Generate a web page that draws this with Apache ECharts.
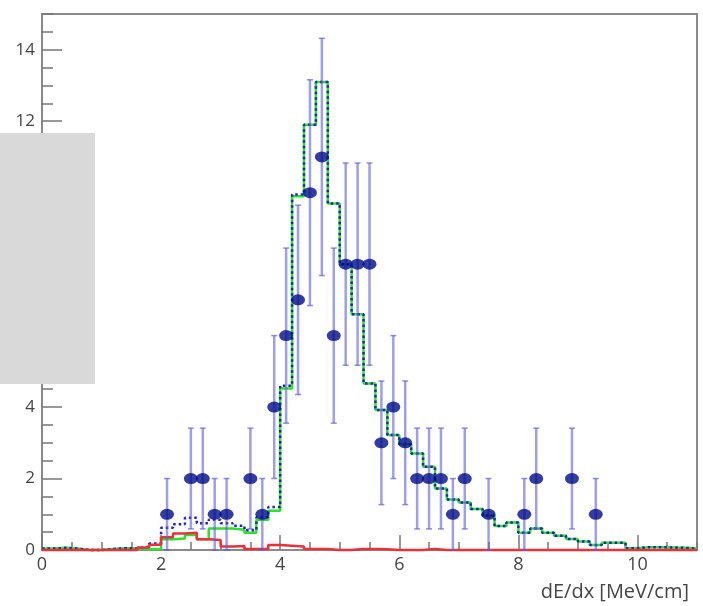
<!DOCTYPE html>
<html>
<head>
<meta charset="utf-8">
<script src="https://cdn.jsdelivr.net/npm/echarts@6/dist/echarts.min.js"></script>
<style>
html,body{margin:0;padding:0;background:#fff;}
#chart{width:703px;height:606px;}
</style>
</head>
<body>
<div id="chart"></div>
<script>
// ---- Data ----
const histMin = 0;
const binWidth = 0.2;
// histogram contents per bin (bins of 0.2 from 0 to 11)
const greenHist = [0.04,0.06,0.04,0,0,0.03,0.05,0.05,0.02,0.03,
  0.30,0.32,0.42,0.30,0.60,0.60,0.57,0.48,0.85,1.10,
  4.52,9.9,11.9,13.1,9.7,8.0,6.6,4.66,3.92,3.22,
  2.96,2.70,2.33,1.72,1.41,1.33,1.15,0.96,0.67,0.77,
  0.48,0.60,0.48,0.40,0.31,0.24,0.14,0.20,0.20,0.05,
  0.08,0.08,0.07,0.06,0.04];
const blueHist = [0.04,0.06,0.04,0,0,0.03,0.05,0.05,0.09,0.18,
  0.62,0.72,0.90,0.75,0.85,0.75,0.68,0.55,0.92,1.20,
  4.60,9.95,11.9,13.1,9.7,8.0,6.6,4.66,3.92,3.22,
  2.96,2.70,2.33,1.72,1.41,1.33,1.15,0.96,0.67,0.77,
  0.48,0.60,0.48,0.40,0.31,0.24,0.14,0.20,0.20,0.05,
  0.08,0.08,0.07,0.06,0.04];
const redHist = [0,0,0,0,0,0,0,0,0.07,0.15,
  0.36,0.46,0.48,0.30,0.28,0.10,0.11,0.03,0.03,0.14,
  0.12,0.10,0.03,0.03,0,0,0.03,0.03,0.02,0,
  0,0,0.03,0,0,0,0,0,0,0,
  0,0,0,0,0,0,0,0,0,0,
  0,0,0,0,0];
// data points
const dataX = [2.1,2.5,2.7,2.9,3.1,3.5,3.7,3.9,4.1,4.3,4.5,4.7,4.9,5.1,5.3,5.5,5.7,5.9,6.1,6.3,6.5,6.7,6.9,7.1,7.5,8.1,8.3,8.9,9.3];
const dataY = [1,2,2,1,1,2,1,4,6,7,10,11,6,8,8,8,3,4,3,2,2,2,1,2,1,1,2,2,1];
const dataErr = [1,1.41,1.41,1,1,1.41,1,2,2.45,2.65,3.16,3.32,2.45,2.83,2.83,2.83,1.73,2,1.73,1.41,1.41,1.41,1,1.41,1,1,1.41,1.41,1];
const xTitle = 'dE/dx [MeV/cm]';

// ---- build series data ----
function stepData(vals) {
  const out = vals.map((v, i) => [histMin + i * binWidth, v]);
  out.push([histMin + vals.length * binWidth, vals[vals.length - 1]]);
  return out;
}
const pts = dataX.map((x, i) => [x, dataY[i], dataErr[i]]);

const FONT = '"Open Sans", "DejaVu Sans", sans-serif';
const axisGrey = '#8a8a8a';
const chart = echarts.init(document.getElementById('chart'), null, {renderer: 'canvas'});
chart.setOption({
  animation: false,
  backgroundColor: '#ffffff',
  grid: {left: 42, right: 6, top: 14, bottom: 56, show: true, borderColor: axisGrey, borderWidth: 2, backgroundColor: 'transparent'},
  xAxis: [{
    type: 'value', min: 0, max: 11, interval: 2,
    axisLine: {show: true, lineStyle: {color: axisGrey, width: 2}},
    axisTick: {show: true, inside: true, length: 15, lineStyle: {color: '#777', width: 1.5}},
    minorTick: {show: false},
    splitLine: {show: false},
    axisLabel: {show: true, showMaxLabel: false, margin: 6, color: '#454545', fontSize: 18, fontFamily: FONT}
  }, {
    type: 'value', min: 0, max: 11, interval: 0.5, position: 'bottom',
    axisLine: {show: false},
    axisTick: {show: true, inside: true, length: 8, lineStyle: {color: '#777', width: 1.5}},
    splitLine: {show: false},
    axisLabel: {show: false}
  }],
  yAxis: [{
    type: 'value', min: 0, max: 15, interval: 2,
    axisLine: {show: true, lineStyle: {color: axisGrey, width: 2}},
    axisTick: {show: true, inside: true, length: 20, lineStyle: {color: '#777', width: 1.5}},
    splitLine: {show: false},
    axisLabel: {show: true, showMaxLabel: false, margin: 7, color: '#454545', fontSize: 17, fontFamily: FONT}
  }, {
    type: 'value', min: 0, max: 15, interval: 0.5, position: 'left',
    axisLine: {show: false},
    axisTick: {show: true, inside: true, length: 11, lineStyle: {color: '#777', width: 1.5}},
    splitLine: {show: false},
    axisLabel: {show: false}
  }],
  series: [
    {type: 'line', name: 'green', step: 'end', data: stepData(greenHist), showSymbol: false, clip: false,
     lineStyle: {color: '#2ee02e', width: 2.5}, z: 3},
    {type: 'line', name: 'blue', step: 'end', data: stepData(blueHist), showSymbol: false, clip: false,
     lineStyle: {color: '#2323b8', width: 2.5, type: [2.5, 3]}, z: 4},
    {type: 'line', name: 'red', step: 'end', data: stepData(redHist), showSymbol: false, clip: false,
     lineStyle: {color: '#e8323a', width: 2.5}, z: 5},
    {type: 'custom', name: 'errors', data: pts, z: 6,
     renderItem: function (params, api) {
       const x = api.value(0), y = api.value(1), e = api.value(2);
       const t = api.coord([x, y + e]);
       const b = api.coord([x, y - e]);
       const st = {stroke: 'rgba(95,95,215,0.6)', lineWidth: 2.5};
       const cs = {stroke: 'rgba(95,95,215,0.7)', lineWidth: 1.5};
       return {type: 'group', children: [
         {type: 'line', shape: {x1: t[0], y1: t[1], x2: b[0], y2: b[1]}, style: st},
         {type: 'line', shape: {x1: t[0] - 3, y1: t[1], x2: t[0] + 3, y2: t[1]}, style: cs},
         {type: 'line', shape: {x1: b[0] - 3, y1: b[1], x2: b[0] + 3, y2: b[1]}, style: cs}
       ]};
     },
     encode: {x: 0, y: 1}},
    {type: 'scatter', name: 'data', data: pts.map(p => [p[0], p[1]]), symbol: 'circle', symbolSize: [14, 11],
     itemStyle: {color: '#000c8a'}, z: 7}
  ],
  graphic: [
    {type: 'text', right: 14, top: 582, z: 20,
     style: {text: xTitle, font: '20px ' + FONT, fill: '#454545'}},
    {type: 'rect', left: 0, top: 133, shape: {width: 95, height: 251}, style: {fill: '#d9d9d9'}, z: 100}
  ]
});
</script>
</body>
</html>
